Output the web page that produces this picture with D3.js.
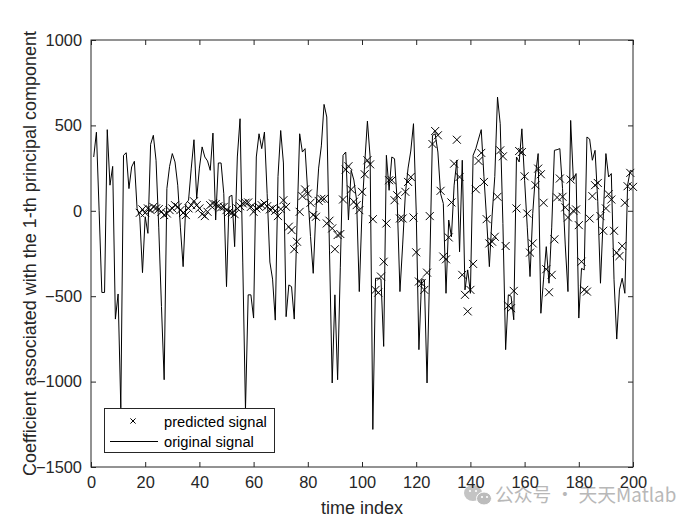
<!DOCTYPE html>
<html><head><meta charset="utf-8">
<script src="https://cdn.jsdelivr.net/npm/d3@7"></script>
<style>body{margin:0;background:#fff}svg{display:block}text{font-family:"Liberation Sans",Arial,sans-serif}</style>
</head><body><svg id="c" width="700" height="525"></svg>
<script>
const original = [315,460,0,-478,-478,475,150,260,-634,-487,-1154,325,340,130,257,290,14,-35,-362,-35,
-132,389,442,296,-100,-560,-989,130,260,335,286,150,-100,-327,43,62,250,416,72,250,
374,315,292,237,455,-54,280,280,100,-444,82,91,-210,315,539,-300,-1164,-492,-492,-628,
315,451,364,461,100,-300,-400,-640,200,470,280,-620,-434,-444,-634,-90,451,344,364,100,
-150,-366,0,250,380,623,549,-230,-1008,-492,-989,-330,325,344,-54,237,180,62,-473,0,
276,525,315,-1280,-395,-395,-400,-794,325,120,315,305,50,-473,-200,100,250,350,510,0,
-813,-404,-404,-1008,-330,442,450,344,100,43,-483,-54,-152,150,296,-240,296,-463,-346,-483,
325,364,420,475,200,-54,-327,-30,200,666,510,-75,-813,-492,-500,-638,315,286,480,179,
-100,-385,-16,210,335,-600,-400,-210,-424,-100,354,358,364,130,-200,-473,529,179,218,-628,
-337,-346,432,420,296,354,53,-424,-45,335,198,218,-404,-751,-463,-395,-483,150,237,230];
const predStart = 18;
const predicted = [-12,8,-12,14,4,23,14,10,-6,-25,-16,4,14,33,23,4,-12,-25,14,33,
56,33,14,-20,-31,-6,33,43,39,27,20,23,4,-6,-12,-20,14,27,43,47,
49,23,-6,14,23,33,43,27,8,14,0,-31,10,62,23,-93,-113,-225,-181,-6,
86,125,101,47,-25,-35,58,70,70,-74,-58,-103,-225,-142,-136,66,241,261,125,53,
33,4,111,214,296,272,-49,-463,-479,-385,-298,-74,179,179,62,91,-45,-45,111,169,
198,-39,-243,-414,-424,-463,-362,-31,391,467,442,117,-268,-284,-156,49,276,416,198,-375,
-492,-589,-463,-311,126,292,339,169,-49,-191,-181,-152,82,354,319,-206,-556,-570,-469,14,
350,344,202,-16,-245,-191,150,247,214,47,-342,-477,-375,-167,78,189,82,20,-39,183,
0,8,-84,-298,-463,-473,-45,86,150,163,-31,-117,14,97,66,-117,-245,-265,-206,47,
144,222,140];
const xTicks = [0,20,40,60,80,100,120,140,160,180,200];
const yTicks = [-1500,-1000,-500,0,500,1000];
const xLabel = "time index";
const yLabel = "Coefficient associated with the 1-th principal component";
const legendLabels = ["predicted signal","original signal"];
const watermark = "公众号 · 天天Matlab";

const svg = d3.select("#c");
const L=91,R=633,T=40,B=467;
const x = d3.scaleLinear().domain([0,200]).range([L,R]);
const y = d3.scaleLinear().domain([-1500,1000]).range([B,T]);
const axCol="#262626";

svg.append("rect").attr("width",700).attr("height",525).attr("fill","#fff");

// watermark (drawn beneath)
const wm=svg.append("g");
wm.append("ellipse").attr("cx",473).attr("cy",493).attr("rx",9).attr("ry",8).attr("fill","#c4c4c4");
wm.append("ellipse").attr("cx",484).attr("cy",498.5).attr("rx",7.5).attr("ry",6.5).attr("fill","#bcbcbc").attr("stroke","#fff").attr("stroke-width",1);
[[470,491],[476,491],[482,497],[487,497]].forEach(p=>wm.append("circle").attr("cx",p[0]).attr("cy",p[1]).attr("r",1.1).attr("fill","#fff"));
wm.append("text").attr("x",495).attr("y",502).attr("fill","#b8b8b8").style("font-size","18.8px")
  .style("font-family",'"Noto Sans CJK SC","Noto Sans",sans-serif').text(watermark);

const origData = original.map((v,i)=>({i:i+1,v}));
const predData = predicted.map((v,i)=>({i:i+predStart,v}));

const line = d3.line().x(d=>x(d.i)).y(d=>y(d.v));
svg.append("path").datum(origData).attr("d",line).attr("fill","none")
  .attr("stroke","#000").attr("stroke-width",1);

const m=4;
const mk = svg.append("g").attr("stroke","#000").attr("stroke-width",1).attr("fill","none");
mk.selectAll("path").data(predData).join("path")
  .attr("d",d=>{const cx=x(d.i),cy=y(d.v);return `M${cx-m},${cy-m}L${cx+m},${cy+m}M${cx-m},${cy+m}L${cx+m},${cy-m}`;});

// axes
const fs=16.4;
const gB=svg.append("g").attr("transform",`translate(0,${B})`).call(d3.axisBottom(x).tickValues(xTicks).tickSizeInner(-5).tickSizeOuter(0).tickPadding(9).tickFormat(d3.format("d")));
const gT=svg.append("g").attr("transform",`translate(0,${T})`).call(d3.axisTop(x).tickValues(xTicks).tickSizeInner(-5).tickSizeOuter(0).tickFormat(""));
const gL=svg.append("g").attr("transform",`translate(${L},0)`).call(d3.axisLeft(y).tickValues(yTicks).tickSizeInner(-5).tickSizeOuter(0).tickPadding(9).tickFormat(d3.format("d")));
const gR=svg.append("g").attr("transform",`translate(${R},0)`).call(d3.axisRight(y).tickValues(yTicks).tickSizeInner(-5).tickSizeOuter(0).tickFormat(""));
[gB,gT,gL,gR].forEach(g=>{g.selectAll("path").remove();g.selectAll("line").attr("stroke",axCol);
  g.selectAll("text").attr("fill",axCol).style("font-size",fs+"px").style("font-family",'"Liberation Sans",Arial,sans-serif');});
svg.append("rect").attr("x",L).attr("y",T).attr("width",R-L).attr("height",B-T)
  .attr("fill","none").attr("stroke",axCol).attr("stroke-width",1);

svg.append("text").attr("x",(L+R)/2).attr("y",514).attr("text-anchor","middle")
  .attr("fill",axCol).style("font-size","18px").text(xLabel);
svg.append("text").attr("transform",`translate(36,${(T+B)/2}) rotate(-90)`).attr("text-anchor","middle")
  .attr("fill",axCol).style("font-size","18px").text(yLabel);

// legend
const lg=svg.append("g");
lg.append("rect").attr("x",104.5).attr("y",408.5).attr("width",170).attr("height",44)
  .attr("fill","#fff").attr("stroke",axCol).attr("stroke-width",1);
const lm=2.6, lx=133, ly=421;
lg.append("path").attr("d",`M${lx-lm},${ly-lm}L${lx+lm},${ly+lm}M${lx-lm},${ly+lm}L${lx+lm},${ly-lm}`).attr("stroke","#000").attr("stroke-width",1);
lg.append("line").attr("x1",110).attr("x2",158).attr("y1",441.5).attr("y2",441.5).attr("stroke","#000").attr("stroke-width",1);
lg.append("text").attr("x",164).attr("y",426.5).attr("fill","#000").style("font-size","14.7px").text(legendLabels[0]);
lg.append("text").attr("x",164).attr("y",447).attr("fill","#000").style("font-size","14.7px").text(legendLabels[1]);
</script></body></html>
